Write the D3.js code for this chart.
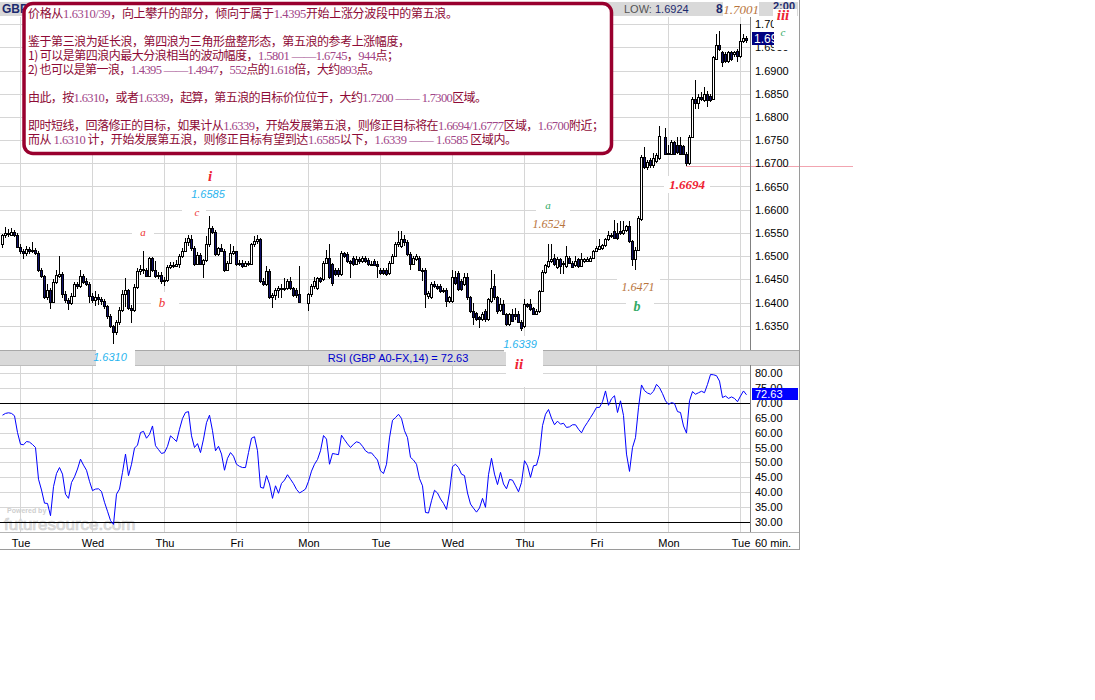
<!DOCTYPE html>
<html>
<head>
<meta charset="utf-8">
<script src="https://cdn.jsdelivr.net/npm/d3@7"></script>
<style>
  body { margin: 0; background: #fff; }
  svg { display: block; }
</style>
</head>
<body>
<svg id="chart" width="1095" height="700"></svg>
<script>
// ---- GBP A0-FX, 60 min bars (null = no trading hour) ----
const opens = [
 1.6527,1.6545,1.6550,1.6546,1.6552,1.6546,1.6520,1.6510,1.6506,1.6516,
 1.6510,1.6514,1.6507,1.6470,1.6457,1.6412,1.6428,1.6402,1.6445,1.6458,
 1.6462,1.6418,1.6405,1.6400,1.6415,1.6440,1.6436,1.6458,1.6447,1.6440,
 1.6413,1.6406,1.6412,1.6407,1.6403,1.6392,1.6370,1.6350,1.6336,1.6358,
 1.6384,1.6418,1.6428,1.6388,1.6384,1.6434,1.6468,1.6472,1.6470,1.6458,
 1.6495,1.6470,1.6458,1.6460,1.6446,1.6448,1.6476,1.6480,1.6478,1.6482,
 1.6500,1.6512,1.6530,1.6536,1.6518,1.6484,1.6503,1.6484,1.6492,1.6525,
 1.6561,1.6553,1.6504,1.6518,1.6512,1.6471,1.6486,1.6507,1.6510,1.6482,
 1.6486,1.6478,1.6486,1.6484,1.6525,1.6532,1.6536,1.6446,1.6440,1.6468,
 1.6411,1.6416,1.6428,1.6432,1.6429,1.6432,1.6446,1.6431,1.6428,1.6418,
 null,null,1.6398,1.6418,1.6436,1.6431,1.6452,1.6450,1.6486,1.6496,
 1.6482,1.6471,1.6471,1.6461,1.6507,1.6504,1.6489,1.6496,1.6482,1.6493,
 1.6489,1.6496,1.6492,1.6482,1.6490,1.6484,1.6471,1.6471,1.6470,1.6464,
 1.6486,1.6500,1.6525,1.6522,1.6536,1.6530,1.6505,1.6484,1.6494,1.6496,
 1.6471,1.6471,1.6414,1.6411,1.6439,1.6436,1.6436,1.6425,1.6428,1.6404,
 1.6404,1.6454,1.6464,1.6446,1.6440,1.6454,1.6411,1.6382,1.6378,1.6368,
 1.6364,1.6382,1.6364,1.6404,1.6436,1.6411,1.6384,1.6396,1.6375,1.6354,
 1.6375,1.6375,1.6375,1.6359,1.6350,1.6396,1.6396,1.6388,1.6375,1.6382,
 1.6425,1.6466,1.6478,1.6489,1.6496,1.6477,1.6493,1.6482,1.6479,1.6496,
 1.6486,1.6480,1.6493,1.6479,1.6490,1.6490,1.6490,1.6496,1.6511,1.6516,
 1.6518,1.6523,1.6536,1.6546,1.6554,1.6550,1.6554,1.6550,1.6557,1.6564,
 1.6532,1.6493,1.6514,1.6580,1.6714,1.6693,1.6708,1.6696,1.6705,1.6711,
 null,1.6757,1.6721,1.6721,1.6745,1.6739,1.6739,1.6737,1.6721,1.6700,
 1.6757,1.6839,1.6830,1.6843,1.6836,1.6850,1.6846,1.6839,1.6925,1.6954,
 1.6940,1.6936,1.6921,1.6939,1.6936,1.6943,1.6932,1.6964,1.6971
];
const highs = [
 1.6548,1.6562,1.6558,1.6560,1.6556,1.6550,1.6525,1.6515,1.6522,1.6520,
 1.6530,1.6517,1.6512,1.6474,1.6460,1.6440,1.6432,1.6450,1.6470,1.6500,
 1.6465,1.6425,1.6410,1.6420,1.6445,1.6445,1.6470,1.6462,1.6452,1.6444,
 1.6420,1.6425,1.6418,1.6412,1.6408,1.6395,1.6375,1.6352,1.6362,1.6390,
 1.6426,1.6452,1.6430,1.6395,1.6440,1.6475,1.6480,1.6510,1.6475,1.6498,
 1.6498,1.6490,1.6466,1.6465,1.6455,1.6480,1.6488,1.6488,1.6492,1.6505,
 1.6518,1.6540,1.6545,1.6545,1.6522,1.6508,1.6506,1.6494,1.6543,1.6586,
 1.6565,1.6556,1.6520,1.6525,1.6515,1.6490,1.6525,1.6521,1.6512,1.6492,
 1.6492,1.6490,1.6490,1.6528,1.6543,1.6545,1.6540,1.6452,1.6479,1.6472,
 1.6420,1.6432,1.6436,1.6440,1.6452,1.6450,1.6456,1.6434,1.6432,1.6479,
 null,null,1.6420,1.6440,1.6454,1.6456,1.6456,1.6490,1.6514,1.6525,
 1.6485,1.6475,1.6475,1.6510,1.6508,1.6508,1.6492,1.6500,1.6500,1.6498,
 1.6500,1.6500,1.6495,1.6490,1.6494,1.6490,1.6474,1.6475,1.6474,1.6490,
 1.6505,1.6530,1.6555,1.6555,1.6545,1.6534,1.6508,1.6500,1.6505,1.6500,
 1.6475,1.6474,1.6425,1.6444,1.6446,1.6440,1.6440,1.6432,1.6432,1.6415,
 1.6469,1.6468,1.6468,1.6450,1.6464,1.6464,1.6414,1.6400,1.6380,1.6370,
 1.6380,1.6385,1.6410,1.6469,1.6461,1.6414,1.6410,1.6405,1.6378,1.6378,
 1.6386,1.6388,1.6382,1.6362,1.6407,1.6400,1.6407,1.6390,1.6386,1.6428,
 1.6470,1.6484,1.6525,1.6525,1.6504,1.6497,1.6496,1.6490,1.6521,1.6500,
 1.6490,1.6500,1.6496,1.6507,1.6496,1.6497,1.6500,1.6514,1.6521,1.6536,
 1.6527,1.6540,1.6555,1.6550,1.6577,1.6571,1.6575,1.6575,1.6568,1.6576,
 1.6535,1.6520,1.6586,1.6718,1.6736,1.6708,1.6712,1.6722,1.6722,1.6780,
 null,1.6775,1.6739,1.6750,1.6748,1.6757,1.6757,1.6740,1.6724,1.6760,
 1.6842,1.6879,1.6850,1.6854,1.6864,1.6855,1.6850,1.6932,1.6979,1.6986,
 1.6943,1.6940,1.6943,1.6943,1.6943,1.6946,1.7001,1.6979,1.6975
];
const lows = [
 1.6518,1.6540,1.6542,1.6543,1.6542,1.6517,1.6505,1.6493,1.6500,1.6505,
 1.6506,1.6503,1.6466,1.6452,1.6407,1.6405,1.6385,1.6398,1.6440,1.6452,
 1.6410,1.6400,1.6384,1.6395,1.6412,1.6430,1.6432,1.6440,1.6435,1.6400,
 1.6398,1.6392,1.6395,1.6395,1.6385,1.6365,1.6345,1.6310,1.6330,1.6352,
 1.6380,1.6390,1.6384,1.6355,1.6380,1.6430,1.6460,1.6462,1.6455,1.6455,
 1.6465,1.6452,1.6450,1.6440,1.6435,1.6445,1.6472,1.6474,1.6476,1.6474,
 1.6496,1.6508,1.6522,1.6512,1.6478,1.6480,1.6480,1.6452,1.6488,1.6520,
 1.6548,1.6500,1.6500,1.6508,1.6466,1.6468,1.6482,1.6502,1.6478,1.6478,
 1.6474,1.6476,1.6478,1.6480,1.6520,1.6525,1.6442,1.6436,1.6436,1.6408,
 1.6388,1.6405,1.6410,1.6410,1.6425,1.6426,1.6426,1.6412,1.6410,1.6398,
 null,null,1.6381,1.6412,1.6430,1.6428,1.6442,1.6446,1.6482,1.6450,
 1.6436,1.6458,1.6456,1.6458,1.6496,1.6486,1.6452,1.6478,1.6480,1.6484,
 1.6485,1.6485,1.6478,1.6478,1.6478,1.6452,1.6460,1.6460,1.6458,1.6460,
 1.6482,1.6498,1.6520,1.6518,1.6522,1.6500,1.6470,1.6480,1.6490,1.6468,
 1.6446,1.6388,1.6408,1.6408,1.6432,1.6428,1.6420,1.6420,1.6390,1.6400,
 1.6400,1.6438,1.6425,1.6425,1.6436,1.6406,1.6378,1.6352,1.6360,1.6346,
 1.6360,1.6358,1.6360,1.6400,1.6406,1.6375,1.6380,1.6372,1.6350,1.6350,
 1.6358,1.6362,1.6355,1.6339,1.6346,1.6388,1.6382,1.6372,1.6372,1.6378,
 1.6422,1.6462,1.6474,1.6486,1.6478,1.6472,1.6461,1.6461,1.6475,1.6482,
 1.6474,1.6476,1.6475,1.6476,1.6486,1.6487,1.6487,1.6493,1.6508,1.6514,
 1.6514,1.6520,1.6532,1.6538,1.6536,1.6535,1.6546,1.6546,1.6552,1.6528,
 1.6479,1.6471,1.6510,1.6576,1.6688,1.6686,1.6690,1.6690,1.6700,1.6707,
 null,1.6718,1.6718,1.6718,1.6718,1.6721,1.6718,1.6718,1.6694,1.6696,
 1.6754,1.6818,1.6816,1.6834,1.6832,1.6822,1.6832,1.6836,1.6922,1.6942,
 1.6907,1.6916,1.6916,1.6920,1.6930,1.6918,1.6928,1.6960,1.6960
];
const closes = [
 1.6545,1.6550,1.6548,1.6552,1.6546,1.6520,1.6510,1.6506,1.6516,1.6510,
 1.6514,1.6507,1.6470,1.6457,1.6412,1.6428,1.6402,1.6445,1.6460,1.6462,
 1.6418,1.6405,1.6400,1.6415,1.6440,1.6436,1.6458,1.6445,1.6440,1.6413,
 1.6406,1.6412,1.6407,1.6403,1.6392,1.6370,1.6350,1.6336,1.6358,1.6384,
 1.6418,1.6428,1.6388,1.6384,1.6434,1.6468,1.6472,1.6470,1.6458,1.6495,
 1.6470,1.6458,1.6460,1.6446,1.6448,1.6476,1.6480,1.6478,1.6482,1.6500,
 1.6512,1.6530,1.6538,1.6518,1.6484,1.6503,1.6484,1.6492,1.6525,1.6561,
 1.6553,1.6504,1.6518,1.6512,1.6471,1.6486,1.6507,1.6510,1.6482,1.6486,
 1.6478,1.6486,1.6484,1.6525,1.6532,1.6536,1.6446,1.6440,1.6468,1.6411,
 1.6416,1.6428,1.6432,1.6429,1.6432,1.6446,1.6431,1.6416,1.6416,1.6402,
 null,null,1.6418,1.6436,1.6446,1.6452,1.6446,1.6486,1.6496,1.6455,
 1.6443,1.6461,1.6461,1.6507,1.6500,1.6489,1.6486,1.6482,1.6493,1.6489,
 1.6496,1.6489,1.6482,1.6484,1.6480,1.6478,1.6464,1.6464,1.6462,1.6486,
 1.6500,1.6525,1.6530,1.6536,1.6530,1.6505,1.6484,1.6496,1.6500,1.6471,
 1.6468,1.6418,1.6420,1.6439,1.6436,1.6432,1.6425,1.6428,1.6404,1.6411,
 1.6454,1.6443,1.6429,1.6429,1.6454,1.6411,1.6382,1.6368,1.6364,1.6364,
 1.6375,1.6364,1.6407,1.6432,1.6411,1.6382,1.6396,1.6375,1.6354,1.6375,
 1.6361,1.6370,1.6359,1.6346,1.6396,1.6393,1.6386,1.6375,1.6382,1.6425,
 1.6466,1.6480,1.6489,1.6493,1.6482,1.6493,1.6479,1.6486,1.6500,1.6486,
 1.6477,1.6490,1.6479,1.6493,1.6493,1.6493,1.6496,1.6511,1.6518,1.6521,
 1.6523,1.6536,1.6546,1.6543,1.6539,1.6539,1.6550,1.6557,1.6564,1.6532,
 1.6493,1.6514,1.6582,1.6714,1.6693,1.6703,1.6696,1.6711,1.6718,1.6759,
 null,1.6721,1.6723,1.6745,1.6721,1.6725,1.6721,1.6721,1.6700,1.6757,
 1.6839,1.6830,1.6843,1.6839,1.6850,1.6836,1.6836,1.6929,1.6954,1.6947,
 1.6918,1.6921,1.6939,1.6925,1.6939,1.6932,1.6964,1.6971,1.6966
];

// RSI(14) per bar
const rsiValues = [
 65.8,66.4,66.6,66.4,65.6,60.0,56.1,55.9,57.0,56.8,
 56.0,55.0,44.4,40.8,36.4,36.3,32.2,41.9,46.3,48.3,
 46.1,39.4,38.0,43.3,45.2,47.8,51.1,49.1,47.4,43.7,
 40.6,41.1,41.2,40.3,36.7,33.7,30.6,29.3,39.4,41.1,
 46.7,52.8,45.6,49.4,54.8,55.8,60.0,60.4,58.1,59.4,
 62.2,55.6,54.3,53.0,53.3,55.4,58.9,58.0,57.0,61.1,
 64.7,66.7,67.0,58.9,55.0,56.3,53.3,57.8,63.3,65.8,
 60.6,53.9,55.4,52.8,47.4,51.4,53.3,52.1,49.4,48.7,
 48.3,48.3,53.3,58.1,58.6,53.9,41.7,41.4,45.6,42.8,
 38.0,42.2,39.7,43.0,44.1,45.9,44.4,42.9,41.0,39.8,
 40.4,41.1,43.7,47.1,49.4,51.0,53.9,59.0,57.8,49.4,
 53.0,52.8,52.6,59.1,57.6,56.2,55.0,56.1,56.9,56.6,
 55.4,53.9,53.2,53.2,52.0,50.8,47.2,46.3,49.4,58.2,
 64.1,65.0,66.1,64.7,60.6,58.3,51.7,50.8,49.4,44.6,
 42.2,33.3,33.1,37.2,40.7,39.8,37.8,36.3,34.3,40.1,
 48.6,49.4,48.3,46.1,45.6,39.8,36.1,34.7,33.4,34.8,
 38.0,35.0,45.9,51.4,46.1,42.6,46.7,42.8,41.2,44.3,
 44.1,42.2,40.2,43.3,50.6,48.9,45.0,48.9,49.1,52.8,
 62.3,66.1,67.7,64.8,62.6,63.8,62.8,63.1,61.7,61.9,
 62.6,62.6,61.1,59.9,61.9,63.4,65.0,66.6,68.4,68.4,
 70.3,73.9,69.1,71.3,72.3,66.7,70.6,65.7,52.8,47.0,
 55.0,58.3,68.3,75.9,74.0,73.2,72.8,73.8,76.1,75.0,
 73.0,70.6,69.4,70.0,69.7,67.0,66.7,62.2,59.8,70.6,
 73.7,72.8,73.3,73.8,73.3,76.1,79.4,79.3,79.0,77.2,
 71.7,72.2,71.4,71.9,71.4,70.3,72.2,73.9,72.63
];

const priceTicks = [1.635,1.640,1.645,1.650,1.655,1.660,1.665,1.670,1.675,1.680,1.685,1.690,1.695,1.700];
const rsiTicks = [30,35,40,45,50,55,60,65,70,75,80];
const rsiLevels = [30,70];
const dayStartIndex = [6,30,54,78,102,126,150,174,198,222,246];
const dayLabels = ["Tue","Wed","Thu","Fri","Mon","Tue","Wed","Thu","Fri","Mon","Tue"];
const lastPrice = 1.6966;
const lastRsi = 72.63;
const sessionLow = "1.6924";
const retraceLevel = 1.6694;

// wave-count annotations
const waveLabels = [
  {t:"i",      x:210, y:176, s:"roman",   box:[200,166,20,20]},
  {t:"1.6585", x:208, y:194, s:"blue",    box:[188,187,41,15]},
  {t:"c",      x:197, y:212, s:"redSm",   box:[182,205,24,15]},
  {t:"a",      x:143, y:232, s:"redSm",   box:[132,225,22,15]},
  {t:"b",      x:162, y:302, s:"redB",    box:[151,292,28,30]},
  {t:"1.6310", x:110, y:357, s:"blue",    box:[96,350,39,22]},
  {t:"1.6339", x:520, y:344, s:"blue",    box:[504,336,39,16]},
  {t:"ii",     x:519, y:364, s:"roman",   box:[506,351,37,36]},
  {t:"a",      x:548, y:205, s:"greenSm", box:[536,198,34,14]},
  {t:"1.6524", x:549, y:224, s:"brown",   box:[528,216,43,16]},
  {t:"1.6471", x:638, y:287, s:"brown",   box:[617,279,43,16]},
  {t:"b",      x:637, y:306, s:"greenB",  box:[626,296,28,24]},
  {t:"1.6694", x:687, y:184, s:"red13",   box:[664,176,46,17]},
  {t:"1.7001", x:741, y:9,   s:"brownL",  box:[723,1,36,16]},
  {t:"iii",    x:783, y:15,  s:"roman",   box:[773,9,24,17]},
  {t:"c",      x:783, y:32,  s:"greenSm", box:[774,26,23,24]}
];
const labelStyles = {
  roman:   {font:"bold italic 15px 'Liberation Serif'", fill:"#ee2233"},
  blue:    {font:"italic 11px 'Liberation Sans'",      fill:"#2ab4ee"},
  redSm:   {font:"italic 11px 'Liberation Serif'",     fill:"#ee3333"},
  redB:    {font:"italic 13px 'Liberation Serif'",     fill:"#ee3333"},
  greenSm: {font:"italic 11px 'Liberation Serif'",     fill:"#33aa66"},
  greenB:  {font:"bold italic 14px 'Liberation Serif'",fill:"#33aa66"},
  brown:   {font:"italic 12px 'Liberation Serif'",     fill:"#b8743c"},
  brownL:  {font:"italic 13px 'Liberation Serif'",     fill:"#b8743c"},
  red13:   {font:"bold italic 13px 'Liberation Serif'",fill:"#ee2233"}
};

// commentary text: [segment, isNumber]; w = set length of each line
const noteLines = [
  {w:430, segs:[["价格从",0],["1.6310/39",1],["，向上攀升的部分，倾向于属于",0],["1.4395",1],["开始上涨分波段中的第五浪。",0]]},
  {w:0,   segs:[]},
  {w:382, segs:[["鉴于第三浪为延长浪，第四浪为三角形盘整形态，第五浪的参考上涨幅度，",0]]},
  {w:371, segs:[["1) 可以是第四浪内最大分浪相当的波动幅度，",0],["1.5801 ——1.6745",1],["，",0],["944",1],["点；",0]]},
  {w:352, segs:[["2) 也可以是第一浪，",0],["1.4395 ——1.4947",1],["，",0],["552",1],["点的",0],["1.618",1],["倍，大约",0],["893",1],["点。",0]]},
  {w:0,   segs:[]},
  {w:459, segs:[["由此，按",0],["1.6310",1],["，或者",0],["1.6339",1],["，起算，第五浪的目标价位位于，大约",0],["1.7200 —— 1.7300",1],["区域。",0]]},
  {w:0,   segs:[]},
  {w:576, segs:[["即时短线，回落修正的目标，如果计从",0],["1.6339",1],["，开始发展第五浪，则修正目标将在",0],["1.6694/1.6777",1],["区域，",0],["1.6700",1],["附近；",0]]},
  {w:489, segs:[["而从 ",0],["1.6310",1],[" 计，开始发展第五浪，则修正目标有望到达",0],["1.6585",1],["以下，",0],["1.6339 —— 1.6585",1],[" 区域内。",0]]}
];

// ---------------- layout ----------------
const plotRight = 750, frameRight = 800;
const priceTop = 17, priceBottom = 350;
const rsiTop = 365, rsiBottom = 532, frameBottom = 550;

const svg = d3.select("#chart");
const x  = d3.scaleLinear().domain([0, 248]).range([2.5, 746.5]);
const yP = d3.scaleLinear().domain([1.635, 1.700]).range([325.7, 24.1]);
const yR = d3.scaleLinear().domain([30, 80]).range([522.3, 372.7]);
const crisp = v => Math.round(v) + 0.5;

svg.append("rect").attr("width",1095).attr("height",700).attr("fill","#fff");

// header strip
svg.append("rect").attr("x",0).attr("y",2).attr("width",798).attr("height",14).attr("fill","#d9d9d9");
svg.append("text").attr("x",2).attr("y",13).attr("font-family","'Liberation Sans', Arial")
  .attr("font-size",12).attr("font-weight","bold").attr("fill","#1c2a6e").text("GBP");
const lowText = svg.append("text").attr("x",624).attr("y",13)
  .attr("font-family","'Liberation Sans', Arial").attr("font-size",11);
lowText.append("tspan").attr("fill","#555").text("LOW: ");
lowText.append("tspan").attr("fill","#1c2a6e").text(sessionLow);
svg.append("text").attr("x",716).attr("y",13).attr("font-family","'Liberation Sans', Arial")
  .attr("font-size",12).attr("font-weight","bold").attr("fill","#1c2a6e").text("8");
svg.append("text").attr("x",773).attr("y",10).attr("font-family","'Liberation Sans', Arial")
  .attr("font-size",11).attr("font-weight","bold").attr("fill","#1c2a6e").text("2:00");

// ---------------- price panel ----------------
const grid = svg.append("g").attr("stroke","#d6d6d6").attr("stroke-width",1);
grid.selectAll(".hp").data(priceTicks).join("line")
  .attr("x1",0).attr("x2",plotRight)
  .attr("y1",d=>crisp(yP(d))).attr("y2",d=>crisp(yP(d)));
grid.selectAll(".vp").data(dayStartIndex).join("line")
  .attr("x1",d=>x(d)).attr("x2",d=>x(d)).attr("y1",priceTop).attr("y2",priceBottom);

// retracement reference line from the swing low
const firstLowIdx = lows.indexOf(retraceLevel);
svg.append("line").attr("x1",Math.floor(x(firstLowIdx))).attr("x2",853)
  .attr("y1",crisp(yP(retraceLevel))).attr("y2",crisp(yP(retraceLevel)))
  .attr("stroke","#f2a4b0").attr("stroke-width",1);

svg.append("clipPath").attr("id","priceClip").append("rect")
  .attr("x",0).attr("y",priceTop).attr("width",plotRight).attr("height",priceBottom-priceTop);

const bars = d3.range(opens.length).filter(i => opens[i] !== null)
  .map(i => ({i, o:opens[i], h:highs[i], l:lows[i], c:closes[i]}));

const candles = svg.append("g").attr("clip-path","url(#priceClip)");
candles.selectAll("line.wick").data(bars).join("line").attr("class","wick")
  .attr("x1",d=>x(d.i)).attr("x2",d=>x(d.i))
  .attr("y1",d=>Math.round(yP(d.h))).attr("y2",d=>Math.round(yP(d.l)))
  .attr("stroke","#000").attr("stroke-width",1);
candles.selectAll("rect.body").data(bars).join("rect").attr("class","body")
  .attr("x",d=>x(d.i)-1)
  .attr("width",2)
  .attr("y",d=>crisp(yP(Math.max(d.o,d.c))))
  .attr("height",d=>Math.max(1, Math.round(yP(Math.min(d.o,d.c))) - Math.round(yP(Math.max(d.o,d.c)))))
  .attr("fill",d=>d.c >= d.o ? "#fff" : "#10106a")
  .attr("stroke","#000").attr("stroke-width",1);

// price axis
svg.append("line").attr("x1",plotRight+0.5).attr("x2",plotRight+0.5)
  .attr("y1",priceTop).attr("y2",priceBottom).attr("stroke","#808080");
const pAxis = svg.append("g").attr("transform",`translate(${plotRight},0)`)
  .call(d3.axisRight(yP).tickValues(priceTicks).tickSize(0).tickPadding(5).tickFormat(d3.format(".4f")));
pAxis.select(".domain").remove();
pAxis.selectAll("text").attr("font-family","'Liberation Sans', Arial").attr("font-size",11).attr("fill","#000");

// ---------------- RSI panel ----------------
svg.append("line").attr("x1",0).attr("x2",frameRight).attr("y1",priceBottom+0.5).attr("y2",priceBottom+0.5).attr("stroke","#a8a8a8");
svg.append("rect").attr("x",0).attr("y",351).attr("width",frameRight).attr("height",14).attr("fill","#d9d9d9");
svg.append("line").attr("x1",0).attr("x2",frameRight).attr("y1",rsiTop+0.5).attr("y2",rsiTop+0.5).attr("stroke","#bdbdbd");
svg.append("text").attr("x",398).attr("y",362).attr("text-anchor","middle")
  .attr("font-family","'Liberation Sans', Arial").attr("font-size",11).attr("fill","#0000cc")
  .text(`RSI (GBP A0-FX,14) = ${lastRsi.toFixed(2)}`);

const rgrid = svg.append("g").attr("stroke","#d6d6d6").attr("stroke-width",1);
rgrid.selectAll(".hr").data(rsiTicks.filter(t => !rsiLevels.includes(t))).join("line")
  .attr("x1",0).attr("x2",plotRight).attr("y1",d=>crisp(yR(d))).attr("y2",d=>crisp(yR(d)));
rgrid.selectAll(".vr").data(dayStartIndex).join("line")
  .attr("x1",d=>x(d)).attr("x2",d=>x(d)).attr("y1",rsiTop+1).attr("y2",rsiBottom);

// watermark
svg.append("text").attr("x",7).attr("y",513).attr("font-family","'Liberation Sans', Arial")
  .attr("font-size",7).attr("font-weight","bold").attr("fill","#cfcfcf").text("Powered by");
svg.append("text").attr("x",4).attr("y",530).attr("font-family","'Liberation Sans', Arial")
  .attr("font-size",17).attr("fill","#e2e2e2").attr("stroke","#d0d0d0").attr("stroke-width",0.7)
  .text("futuresource.com");

svg.selectAll(".lvl").data(rsiLevels).join("line")
  .attr("x1",0).attr("x2",plotRight).attr("y1",d=>crisp(yR(d))).attr("y2",d=>crisp(yR(d)))
  .attr("stroke","#000").attr("stroke-width",1);

const rsiLine = d3.line().x((d,i)=>x(i)).y(d=>yR(d));
svg.append("path").datum(rsiValues).attr("d",rsiLine)
  .attr("fill","none").attr("stroke","#0000ff").attr("stroke-width",1);

svg.append("line").attr("x1",plotRight+0.5).attr("x2",plotRight+0.5)
  .attr("y1",rsiTop).attr("y2",rsiBottom).attr("stroke","#808080");
const rAxis = svg.append("g").attr("transform",`translate(${plotRight},0)`)
  .call(d3.axisRight(yR).tickValues(rsiTicks).tickSize(0).tickPadding(5).tickFormat(d3.format(".2f")));
rAxis.select(".domain").remove();
rAxis.selectAll("text").attr("font-family","'Liberation Sans', Arial").attr("font-size",11).attr("fill","#000");

// ---------------- time axis ----------------
svg.append("line").attr("x1",0).attr("x2",frameRight).attr("y1",rsiBottom+0.5).attr("y2",rsiBottom+0.5).attr("stroke","#b5b5b5");
const tAxis = svg.append("g").attr("transform",`translate(0,${rsiBottom+4})`)
  .call(d3.axisBottom(x).tickValues(dayStartIndex).tickSize(0).tickPadding(3).tickFormat((d,i)=>dayLabels[i]));
tAxis.select(".domain").remove();
tAxis.selectAll("text").attr("font-family","'Liberation Sans', Arial").attr("font-size",11).attr("fill","#000");
svg.append("text").attr("x",755).attr("y",547).attr("font-family","'Liberation Sans', Arial")
  .attr("font-size",11).attr("fill","#000").text("60 min.");

// frame
svg.append("line").attr("x1",frameRight-0.5).attr("x2",frameRight-0.5).attr("y1",0).attr("y2",frameBottom).attr("stroke","#9a9a9a");
svg.append("line").attr("x1",0).attr("x2",frameRight).attr("y1",frameBottom-0.5).attr("y2",frameBottom-0.5).attr("stroke","#9a9a9a");

// ---------------- commentary box ----------------
svg.append("rect").attr("x",24).attr("y",3.5).attr("width",587.5).attr("height",150)
  .attr("rx",9).attr("ry",9).attr("fill","#fff").attr("stroke","#99002e").attr("stroke-width",3.5);
const note = svg.append("g");
noteLines.forEach((line, k) => {
  if (!line.segs.length) return;
  const t = note.append("text").attr("x",28).attr("y",17.5 + k*14)
    .attr("xml:space","preserve")
    .attr("textLength", line.w).attr("lengthAdjust","spacing");
  line.segs.forEach(([s, isNum]) => {
    t.append("tspan")
      .attr("font-family", isNum ? "'Liberation Serif', serif" : "'Noto Sans CJK SC', sans-serif")
      .attr("font-size", isNum ? 12.5 : 12)
      .attr("fill", isNum ? "#a04588" : "#8e0a36")
      .text(s);
  });
});

// ---------------- wave labels ----------------
const wl = svg.append("g");
wl.selectAll("rect").data(waveLabels).join("rect")
  .attr("x",d=>d.box[0]).attr("y",d=>d.box[1]).attr("width",d=>d.box[2]).attr("height",d=>d.box[3])
  .attr("fill","#fff");
wl.selectAll("text").data(waveLabels).join("text")
  .attr("x",d=>d.x).attr("y",d=>d.y).attr("text-anchor","middle").attr("dominant-baseline","central")
  .attr("style",d=>`font:${labelStyles[d.s].font}`).attr("fill",d=>labelStyles[d.s].fill)
  .text(d=>d.t);

// ---------------- last value tags ----------------
svg.append("clipPath").attr("id","tagClip").append("rect").attr("x",752).attr("y",32).attr("width",22).attr("height",13);
svg.append("rect").attr("x",752).attr("y",32).attr("width",22).attr("height",13).attr("fill","#000080");
svg.append("text").attr("x",754).attr("y",42.5).attr("clip-path","url(#tagClip)")
  .attr("font-family","'Liberation Sans', Arial").attr("font-size",12).attr("fill","#fff")
  .text(lastPrice.toFixed(4));
svg.append("rect").attr("x",752).attr("y",388).attr("width",46).attr("height",12).attr("fill","#0000ff");
svg.append("text").attr("x",755).attr("y",398).attr("font-family","'Liberation Sans', Arial")
  .attr("font-size",11).attr("fill","#fff").text(lastRsi.toFixed(2));
</script>
</body>
</html>
